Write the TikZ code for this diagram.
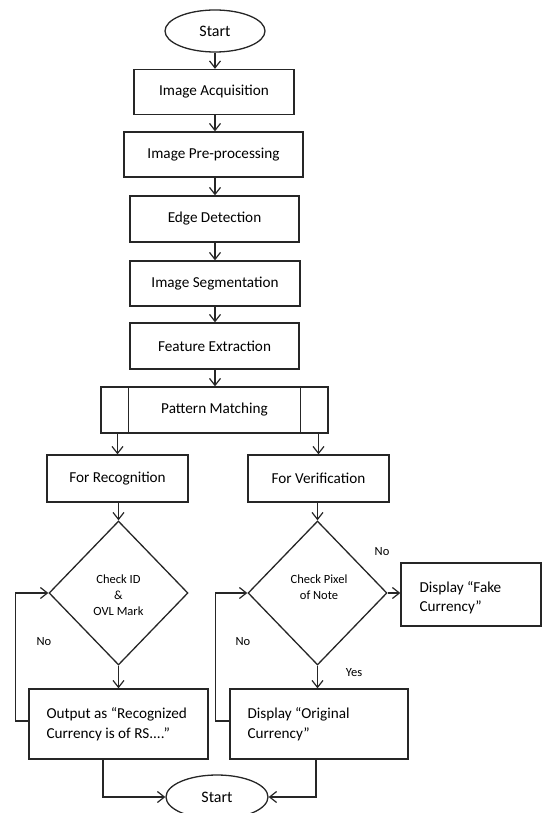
\documentclass[tikz,border=0pt]{standalone}
\usepackage{fontspec}
\setmainfont{Carlito}
\usetikzlibrary{arrows.meta,shapes.geometric,calc}
\begin{document}
\begin{tikzpicture}[x=1pt,y=-1pt,
  every node/.style={text=black},
  line/.style={line width=1.3pt,draw=black!85},
  arr/.style={line, -{Straight Barb[length=7pt,width=11pt,line width=1.2pt]}},
  box/.style={line, rectangle, inner sep=0pt, font=\fontsize{15.2}{19}\selectfont},
  txt/.style={inner sep=0pt, anchor=west, align=left, font=\fontsize{15.2}{19.5}\selectfont},
  dia/.style={line, diamond, inner sep=0pt, minimum width=139, minimum height=144},
  diatxt/.style={align=center, inner sep=0pt, font=\fontsize{12.5}{16}\selectfont},
  oval/.style={line, ellipse, inner sep=0pt, font=\fontsize{16}{18}\selectfont},
  lbl/.style={font=\fontsize{12.5}{15}\selectfont}]
\useasboundingbox (0,0) rectangle (546,813);

\node[oval, minimum width=100, minimum height=42] (start) at (215,31) {Start};
\node[box, minimum width=160, minimum height=45] (acq) at (214,92) {Image Acquisition};
\node[box, minimum width=179, minimum height=45] (pre) at (213.5,154.5) {Image Pre-processing};
\node[box, minimum width=169, minimum height=46] (edge) at (214.5,219) {Edge Detection};
\node[box, minimum width=170, minimum height=45] (seg) at (215,283.5) {Image Segmentation};
\node[box, minimum width=169, minimum height=46] (feat) at (214.5,346) {Feature Extraction};
\node[box, minimum width=227, minimum height=46] (pm) at (214.5,410) {Pattern Matching};
\draw[line] ([xshift=28]pm.north west) -- ([xshift=28]pm.south west);
\draw[line] ([xshift=-28]pm.north east) -- ([xshift=-28]pm.south east);

\node[box, minimum width=141, minimum height=47] (rec) at (117.5,478.5) {For Recognition};
\node[box, minimum width=141, minimum height=47] (ver) at (318.5,478.5) {For Verification};

\node[dia] (d1) at (118.5,593) {};
\node[diatxt] (d1t) at (118.5,595) {Check ID\\\&\\OVL Mark};
\node[dia] (d2) at (317.5,593) {};
\node[diatxt] (d2t) at (319,587) {Check Pixel\\of Note};

\node[box, minimum width=140, minimum height=63] (fake) at (471,594.5) {};
\node[txt] (faket) at ([xshift=19,yshift=-3]fake.west) {Display “Fake\\Currency”};
\node[box, minimum width=179, minimum height=70] (out) at (118.5,724) {};
\node[txt] (outt) at ([xshift=18]out.west) {Output as “Recognized\\Currency is of RS....”};
\node[box, minimum width=178, minimum height=70] (orig) at (319,724) {};
\node[txt] (origt) at ([xshift=18]orig.west) {Display “Original\\Currency”};

\node[oval, minimum width=102, minimum height=44] (stop) at (217,797) {Start};

% main chain
\draw[arr] (start.south) -- (start.south |- acq.north);
\draw[arr] (start.south |- acq.south) -- (start.south |- pre.north);
\draw[arr] (start.south |- pre.south) -- (start.south |- edge.north);
\draw[arr] (start.south |- edge.south) -- (start.south |- seg.north);
\draw[arr] (start.south |- seg.south) -- (start.south |- feat.north);
\draw[arr] (start.south |- feat.south) -- (start.south |- pm.north);

\draw[arr] (rec.north |- pm.south) -- (rec.north);
\draw[arr] (ver.north |- pm.south) -- (ver.north);
\draw[arr] (d1.north |- rec.south) -- (d1.north);
\draw[arr] (d2.north |- ver.south) -- (d2.north);
\draw[arr] (d1.south) -- (d1.south |- out.north);
\draw[arr] (d2.south) -- (d2.south |- orig.north);
\draw[arr] (d2.east) -- (d2.east -| fake.west);

\draw[arr] ([yshift=3]out.west) -- ++(-13,0) |- (d1.west);
\draw[arr] ([yshift=3]orig.west) -- ++(-14,0) |- (d2.west);

\draw[arr] ([xshift=-15.5]out.south) |- (stop.west);
\draw[arr] ([xshift=-3]orig.south) |- (stop.east);

\node[lbl] (no1) at (382,552) {No};
\node[lbl] (no2) at (44,642) {No};
\node[lbl] (no3) at (243,642) {No};
\node[lbl] (yes) at (354,673) {Yes};
\end{tikzpicture}
\end{document}
